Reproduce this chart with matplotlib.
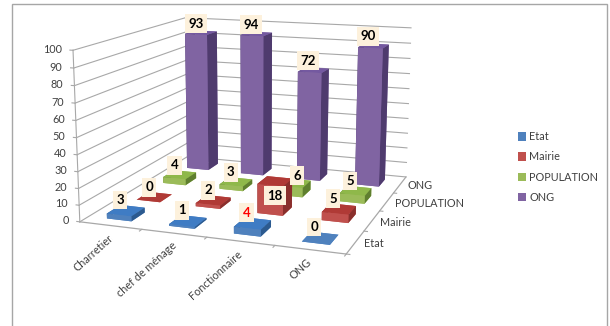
import matplotlib
matplotlib.use('Agg')
import matplotlib.pyplot as plt
from matplotlib.patches import Rectangle
from mpl_toolkits.mplot3d import proj3d

# Donnees du graphique
categories = ['Charretier', 'chef de ménage', 'Fonctionnaire', 'ONG']
series = ['Etat', 'Mairie', 'POPULATION', 'ONG']
etat = [3, 1, 4, 0]
mairie = [0, 2, 18, 5]
population = [4, 3, 6, 5]
ong = [93, 94, 72, 90]
valeurs = [etat, mairie, population, ong]
ticks_z = [0, 10, 20, 30, 40, 50, 60, 70, 80, 90, 100]

# Couleurs : dessus, face avant, cote
couleurs = {
    'Etat': ('#3f7cc4', '#4f81bd', '#2c5a8f'),
    'Mairie': ('#b03a36', '#c0504d', '#8a2f2c'),
    'POPULATION': ('#8fb84a', '#9bbb59', '#5f7f2f'),
    'ONG': ('#7459a0', '#8064a2', '#4f3b6e'),
}

plt.rcParams['font.family'] = ['Lato', 'DejaVu Sans']
fig = plt.figure(figsize=(6.1, 3.26), dpi=100)
fig.add_artist(Rectangle((12 / 610, -0.02), 595 / 610, 1 - 4 / 326 + 0.02,
                         transform=fig.transFigure, fill=False,
                         edgecolor='#a6a6a6', linewidth=1))

cote_ax = 387.66
ax = fig.add_axes([55.61 / 610, 7.54 / 326, cote_ax / 610, cote_ax / 326],
                  projection='3d', computed_zorder=False)
ax.set_proj_type('persp', focal_length=0.487)
ax.view_init(elev=12.706, azim=-70.319)
ax.set_box_aspect((1.695, 1.677, 1.07))
ax.set_xlim(0, 4)
ax.set_ylim(0, 4)
ax.set_zlim(0, 100)
ax.set_axis_off()
ax.patch.set_alpha(0)

M = ax.get_proj()


def texte_3d(x, y, z, s, **kwargs):
    # texte place en 2D a partir de sa position projetee
    xp, yp, _ = proj3d.proj_transform(x, y, z, M)
    return ax.text2D(xp, yp, s, transform=ax.transData, **kwargs)


gris = '#a8a8a8'
texte = '#404040'
# Grille des deux parois
for z in ticks_z:
    ax.plot([0, 0], [0, 4], [z, z], color=gris, lw=0.8, zorder=1)
    ax.plot([0, 4], [4, 4], [z, z], color=gris, lw=0.8, zorder=1)
    ax.plot([0, -0.05], [0, 0], [z, z], color=gris, lw=0.8, zorder=1)
    texte_3d(-0.18, 0, z, str(z), ha='right', va='center', fontsize=7.8, color=texte, zorder=1)
ax.plot([0, 0], [0, 0], [0, 100], color=gris, lw=0.8, zorder=1)
ax.plot([0, 4, 4], [0, 0, 4], [0, 0, 0], color=gris, lw=0.9, zorder=1)

# Graduations et etiquettes du plancher
for i, nom in enumerate(categories):
    ax.plot([i + 1, i + 1], [0, -0.08], [0, 0], color=gris, lw=0.8, zorder=1)
    texte_3d(i * 0.96 + 0.735, -0.42, 0, nom, rotation=42, ha='right', va='center',
             rotation_mode='anchor', fontsize=7.8, color=texte, zorder=1)
for j, nom in enumerate(series):
    ax.plot([4, 4.05], [j, j], [0, 0], color=gris, lw=0.8, zorder=1)
    texte_3d(4.13, j + 0.47, 0, nom, ha='left', va='center', fontsize=7.8,
             color=texte, zorder=1)

# Barres, de l'arriere vers l'avant
largeur = 0.4
profondeur = 0.45
ordre = 2
for j in range(3, -1, -1):
    nom = series[j]
    dessus, face, cote = couleurs[nom]
    # ordre des faces de bar3d : dessous, dessus, -y, +y, -x, +x
    faces = [face, dessus, face, face, cote, cote]
    for i in range(4):
        h = valeurs[j][i]
        ax.bar3d(i + 0.5 - largeur / 2, j + 0.5 - profondeur / 2, 0,
                 largeur, profondeur, h, color=faces, shade=False,
                 edgecolor='none', zorder=ordre)
        ordre += 1

# Etiquettes de valeurs, decalees vers la face avant
fond = dict(facecolor='#fdf1dc', edgecolor='none', pad=2.4)
for j in range(4):
    for i in range(4):
        h = valeurs[j][i]
        couleur = 'red' if (j == 0 and i == 2) else 'black'
        if h == 18:
            x_lab, z_lab = i + 0.5, 9
        elif h == 6:
            x_lab, z_lab = i + 0.54, h + 5
        else:
            x_lab, z_lab = i + 0.41, h + 6
        texte_3d(x_lab, j + 0.5, z_lab, str(h), ha='center', va='center', fontsize=9.5,
                 fontweight='bold', color=couleur, bbox=fond, zorder=100)

poignees = [Rectangle((0, 0), 1, 1, facecolor=couleurs[s][1]) for s in series]
fig.legend(poignees, series, loc='center left', bbox_to_anchor=(508 / 610, 1 - 167 / 326),
           frameon=False, fontsize=7.8, handlelength=0.8, handleheight=0.8,
           labelspacing=0.85, handletextpad=0.25, labelcolor=texte)

fig.savefig('out.png', dpi=100)
